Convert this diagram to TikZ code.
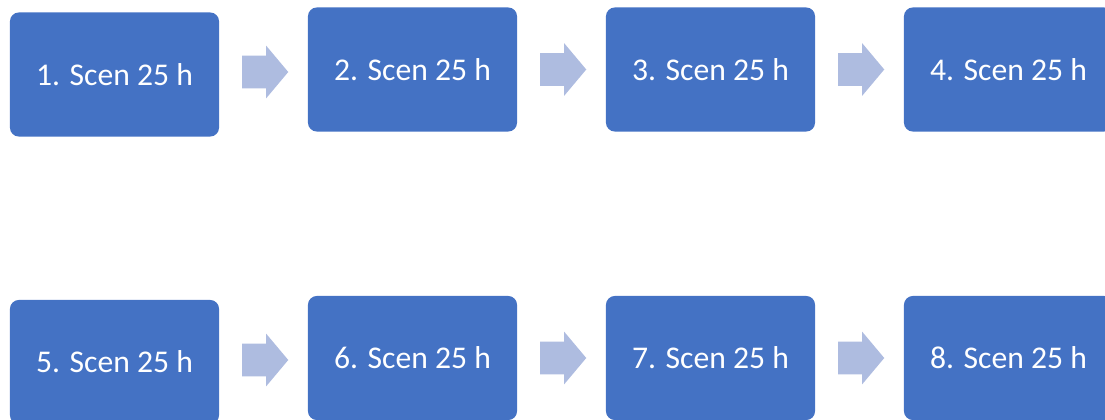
\documentclass[tikz,border=0pt]{standalone}
\usepackage{fontspec}
\setmainfont{Carlito}
\usetikzlibrary{shapes.arrows,calc}
\definecolor{scenblue}{HTML}{4472C4}
\definecolor{steparrow}{HTML}{AEBCE0}

\begin{document}
\begin{tikzpicture}[x=0.025cm,y=-0.025cm,
	scenbox/.style={fill=scenblue,rounded corners=0.22cm,minimum width=5.225cm,minimum height=3.1cm,
		inner sep=0pt,text=white,font=\fontsize{22.5}{27}\selectfont},
	nextarrow/.style={single arrow,fill=steparrow,inner sep=0.4cm,minimum height=1.125cm,
		single arrow head extend=0.25cm,single arrow tip angle=100,single arrow head indent=0pt,
		xshift=-0.13cm}]
	%%%%% START %%%%%
	
	\useasboundingbox (0,0) rectangle (1105,420);
	\clip (0,0) rectangle (1105,420);
	
	% first row
	\node[scenbox] (s1) at (114.5,74.5) {1. Scen 25 h};
	\node[scenbox] (s2) at (412.5,69.5) {2. Scen 25 h};
	\node[scenbox] (s3) at (710.5,69.5) {3. Scen 25 h};
	\node[scenbox] (s4) at (1008.5,69.5) {4. Scen 25 h};
	
	% second row
	\node[scenbox] (s5) at (114.5,362) {5. Scen 25 h};
	\node[scenbox] (s6) at (412.5,358) {6. Scen 25 h};
	\node[scenbox] (s7) at (710.5,358) {7. Scen 25 h};
	\node[scenbox] (s8) at (1008.5,358) {8. Scen 25 h};
	
	% arrows between the boxes
	\foreach \a/\b in {s1/s2,s2/s3,s3/s4,s5/s6,s6/s7,s7/s8}
		\node[nextarrow] (\a\b) at ($(\a.east)!0.5!(\b.west)$) {};
	
	%%%%% END %%%%%
\end{tikzpicture}
\end{document}
